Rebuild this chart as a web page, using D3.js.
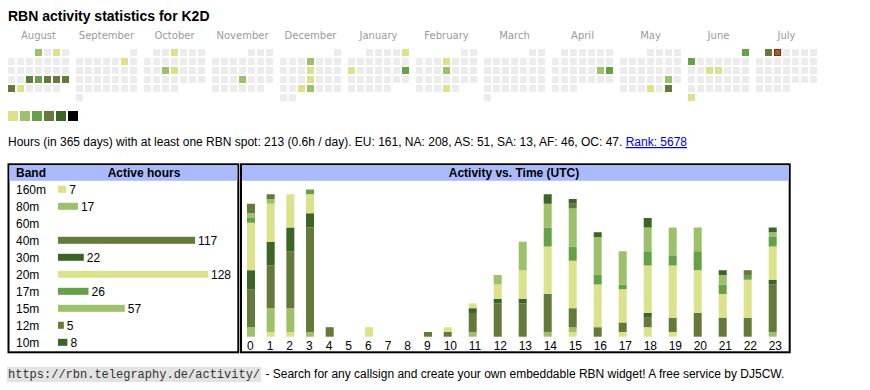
<!DOCTYPE html>
<html><head><meta charset="utf-8">
<script src="https://cdn.jsdelivr.net/npm/d3@7/dist/d3.min.js"></script>
<style>
body{margin:0;background:#fff;}
svg text{font-family:"Liberation Sans",Arial,sans-serif;}
</style>
</head><body><svg id="c" width="870" height="390"></svg>
<script>
// ---------- DATA ----------
const title = "RBN activity statistics for K2D";
const monthNames = ["August","September","October","November","December","January","February","March","April","May","June","July"];
const monthYear  = [2024,2024,2024,2024,2024,2025,2025,2025,2025,2025,2025,2025];
const monthNum   = [7,8,9,10,11,0,1,2,3,4,5,6];
// [month position, day of month, activity level 0..5]
const activeDays = [
  [0,1,1],[0,3,0],[0,21,3],[0,22,2],[0,23,3],[0,24,3],[0,25,3],[0,26,3],[0,27,0],
  [1,7,0],
  [2,3,0],[2,16,1],[2,17,0],
  [3,21,1],
  [4,5,1],[4,12,0],[4,19,0],[4,25,0],[4,26,1],
  [5,5,0],[5,13,0],[5,19,2],
  [6,6,0],[6,13,1],[6,27,0],
  [8,19,1],[8,20,2],
  [9,24,1],[9,29,0],[9,31,3],
  [10,1,2],[10,2,2],[10,11,0],[10,12,0],[10,30,0],
  [11,1,3],[11,2,3]
];
const todayCell = [11,2];
const levelColors = ["#dbe28b","#9dc16b","#66a047","#637a3b","#3a6526","#000000"];

const statsText = "Hours (in 365 days) with at least one RBN spot: 213 (0.6h / day). EU: 161, NA: 208, AS: 51, SA: 13, AF: 46, OC: 47. ";
const rankText = "Rank: 5678";

const bands = ["160m","80m","60m","40m","30m","20m","17m","15m","12m","10m"];
const bandHours = [7,17,0,117,22,128,26,57,5,8];
const bandColors = ["#dbe28b","#9dc16b","#66a047","#637a3b","#3a6526","#dbe28b","#66a047","#9dc16b","#637a3b","#3a6526"];

const hourLabels = ["0","1","2","3","4","5","6","7","8","9","10","11","12","13","14","15","16","17","18","19","20","21","22","23"];
const h160 = [0,1,1,0,0,0,0,0,0,0,0,0,0,0,0,1,0,1,2,1,0,0,0,0];
const h80  = [2,5,5,1,0,0,0,0,0,0,0,1,0,0,1,1,0,0,0,0,0,0,0,1];
const h60  = [0,0,0,0,0,0,0,0,0,0,0,0,0,0,0,0,0,0,0,0,0,0,0,0];
const h40  = [8,9,12,22,2,0,0,0,0,1,1,4,7,7,8,4,2,2,2,3,5,4,4,10];
const h30  = [4,5,5,3,0,0,0,0,0,0,0,1,1,1,0,0,0,0,1,0,0,0,0,1];
const h20  = [10,8,7,4,0,0,2,0,0,0,1,1,3,6,10,10,9,7,10,11,9,5,8,7];
const h17  = [1,0,0,1,0,0,0,0,0,0,0,0,0,0,4,3,2,1,3,2,4,2,1,2];
const h15  = [1,1,0,0,0,0,0,0,0,0,0,0,2,6,5,8,8,7,5,6,5,2,0,1];
const h12  = [2,1,0,0,0,0,0,0,0,0,0,0,0,0,0,1,0,0,0,0,0,0,1,0];
const h10  = [0,0,0,0,0,0,0,0,0,0,0,0,0,0,2,1,1,0,2,0,0,1,0,1];

const footerUrl = "https://rbn.telegraphy.de/activity/";
const footerText = " - Search for any callsign and create your own embeddable RBN widget! A free service by DJ5CW.";

// ---------- DRAW ----------
const svg = d3.select("#c");
svg.append("text").attr("x",8).attr("y",21).attr("font-size",14).attr("font-weight","bold").text(title);

// calendar
const cell = 7, pitch = 9, monthPitch = 68, calX = 8, calY = 49;
const mScale = d3.scaleLinear().domain([0,1]).range([calX, calX+monthPitch]);
const cal = svg.append("g");
monthNames.forEach((m,i)=>{
  const x0 = mScale(i);
  cal.append("text").attr("x",x0+30.5).attr("y",39).attr("text-anchor","middle")
    .attr("font-size",10).attr("fill","#9a9a9a").style("font-family","'DejaVu Sans',Verdana,sans-serif").text(m);
  const y = monthYear[i], mo = monthNum[i];
  const first = (new Date(y,mo,1).getDay()+6)%7;
  const nd = new Date(y,mo+1,0).getDate();
  const days = d3.range(1,nd+1).map(d=>{
    const idx = first + d - 1;
    const a = activeDays.find(e=>e[0]===i && e[1]===d);
    return {d, col: idx%7, row: Math.floor(idx/7), lvl: a? a[2] : -1};
  });
  cal.selectAll(null).data(days).enter().append("rect")
    .attr("x",d=>x0+d.col*pitch).attr("y",d=>calY+d.row*pitch)
    .attr("width",cell).attr("height",cell)
    .attr("fill",d=>d.lvl<0?"#ececec":levelColors[d.lvl]);
  const t = days.find(d=>i===todayCell[0] && d.d===todayCell[1]);
  if(t){
    cal.append("rect").attr("x",x0+t.col*pitch+0.5).attr("y",calY+t.row*pitch+0.5)
      .attr("width",cell-1).attr("height",cell-1).attr("fill",levelColors[t.lvl>=0?t.lvl:0])
      .attr("stroke","#e00000").attr("stroke-width",1);
  }
});
// legend
svg.selectAll(null).data(levelColors).enter().append("rect")
  .attr("x",(d,i)=>8+i*12).attr("y",111).attr("width",10).attr("height",10).attr("fill",d=>d);

// stats
const st = svg.append("text").attr("x",8).attr("y",146).attr("font-size",12);
st.append("tspan").text(statsText);
st.append("tspan").attr("fill","#0000ee").attr("text-decoration","underline").text(rankText);

// band table
const tb = svg.append("g");
tb.append("rect").attr("x",8.5).attr("y",164.3).attr("width",229.8).attr("height",188).attr("fill","none").attr("stroke","#000").attr("stroke-width",2);
tb.append("rect").attr("x",9.5).attr("y",165.3).attr("width",227.8).attr("height",15.5).attr("fill","#aabbfd");
tb.append("text").attr("x",16).attr("y",177).attr("font-size",12).attr("font-weight","bold").text("Band");
tb.append("text").attr("x",144).attr("y",177).attr("text-anchor","middle").attr("font-size",12).attr("font-weight","bold").text("Active hours");
const bx = d3.scaleLinear().domain([0,128]).range([58,208]);
const by = d3.scaleBand().domain(bands).range([180.8,350.8]);
bands.forEach((b,i)=>{
  const cy = by(b)+by.bandwidth()/2;
  tb.append("text").attr("x",16).attr("y",cy+4.3).attr("font-size",12).text(b);
  if(bandHours[i]>0){
    tb.append("rect").attr("x",bx(0)).attr("y",cy-3.5).attr("width",bx(bandHours[i])-bx(0)).attr("height",7).attr("fill",bandColors[i]);
    tb.append("text").attr("x",bx(bandHours[i])+3).attr("y",cy+4.3).attr("font-size",12).text(bandHours[i]);
  }
});

// activity chart
const ac = svg.append("g");
ac.append("rect").attr("x",241).attr("y",164.3).attr("width",548.7).attr("height",188).attr("fill","none").attr("stroke","#000").attr("stroke-width",2);
ac.append("rect").attr("x",242).attr("y",165.3).attr("width",546.7).attr("height",15.5).attr("fill","#aabbfd");
ac.append("text").attr("x",514).attr("y",177).attr("text-anchor","middle").attr("font-size",12).attr("font-weight","bold").text("Activity vs. Time (UTC)");

const series = [h160,h80,h60,h40,h30,h20,h17,h15,h12,h10];
const rows = hourLabels.map((h,i)=>{const o={hour:h}; bands.forEach((b,j)=>o[b]=series[j][i]); return o;});
const stack = d3.stack().keys(bands)(rows);
const lefts = []; let acc = 247;
hourLabels.forEach(h=>{lefts.push(acc); acc += h.length===1?19.67:25;});
const hx = d3.scaleOrdinal().domain(hourLabels).range(lefts);
const hy = d3.scaleLinear().domain([0,31]).range([336.7,189.5]);
stack.forEach((s,j)=>{
  ac.selectAll(null).data(s.filter(d=>d[1]>d[0])).enter().append("rect")
    .attr("x",d=>hx(d.data.hour)).attr("width",8)
    .attr("y",d=>hy(d[1])).attr("height",d=>hy(d[0])-hy(d[1]))
    .attr("fill",bandColors[j]);
});
ac.selectAll(null).data(hourLabels).enter().append("text")
  .attr("x",d=>hx(d)).attr("y",350).attr("font-size",12).text(d=>d);

// footer
const ft = svg.append("g");
const urlT = ft.append("text").attr("x",8).attr("y",378).attr("font-size",12).attr("fill","#333")
  .style("font-family","'Liberation Mono','DejaVu Sans Mono',monospace").text(footerUrl);
const uw = urlT.node().getComputedTextLength();
ft.insert("rect","text").attr("x",7).attr("y",367).attr("width",uw+2).attr("height",15).attr("fill","#e3e3e3");
ft.append("text").attr("x",8+uw+2).attr("y",378).attr("font-size",12).style("white-space","pre").attr("xml:space","preserve").text(footerText);
</script>
</body></html>
